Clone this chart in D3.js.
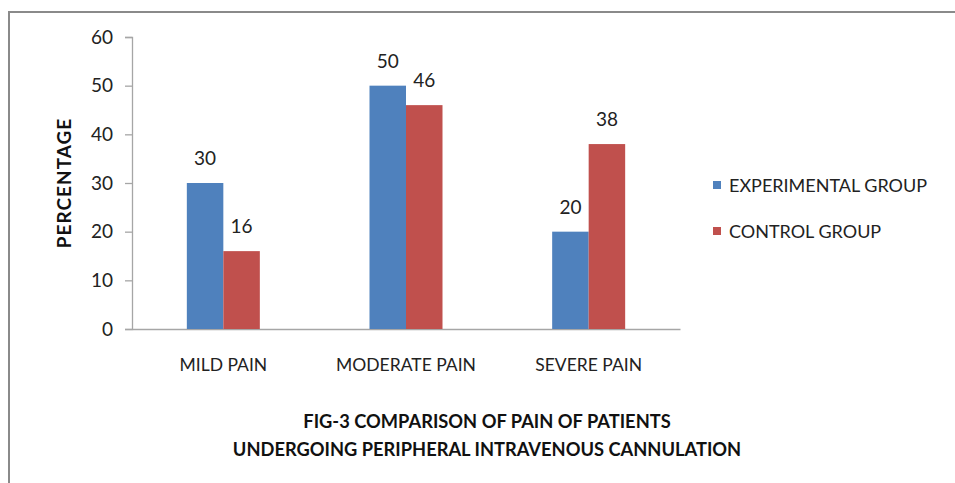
<!DOCTYPE html>
<html><head><meta charset="utf-8">
<script src="https://cdnjs.cloudflare.com/ajax/libs/d3/7.8.5/d3.min.js"></script>
<style>
body{margin:0;background:#fff;}
svg{display:block;font-family:Lato,"Open Sans",sans-serif;}
</style></head>
<body>
<svg id="c" width="955" height="483"></svg>
<script>
const categories = ["MILD PAIN", "MODERATE PAIN", "SEVERE PAIN"];
const seriesNames = ["EXPERIMENTAL GROUP", "CONTROL GROUP"];
const experimental = [30, 50, 20];
const control = [16, 46, 38];
const yTicks = [0, 10, 20, 30, 40, 50, 60];
const colors = ["#4F81BD", "#C0504D"];
const titleLines = ["FIG-3 COMPARISON OF PAIN OF PATIENTS", "UNDERGOING PERIPHERAL INTRAVENOUS CANNULATION"];
const yTitle = "PERCENTAGE";

(function () {
const svg = d3.select("#c");
// outer border
svg.append("rect").attr("x", 9).attr("y", 12).attr("width", 960).attr("height", 490)
  .attr("fill", "none").attr("stroke", "#8a8a8a").attr("stroke-width", 2);

const pLeft = 132, pRight = 680, pTop = 37, pBottom = 329;
const x = d3.scaleBand().domain(categories).range([pLeft, pRight]).paddingInner(0).paddingOuter(0);
const y = d3.scaleLinear().domain([0, 60]).range([pBottom, pTop]);
const barW = 36.5;
const xs = d3.scaleBand().domain(seriesNames).range([0, barW * 2]);

// y axis
const yAxis = svg.append("g").attr("transform", `translate(${pLeft},0)`)
  .call(d3.axisLeft(y).tickValues(yTicks).tickSize(7).tickPadding(12).tickFormat(d3.format("d")));
yAxis.select(".domain").attr("stroke", "#a6a6a6").attr("stroke-width", 1.3);
yAxis.selectAll(".tick line").attr("stroke", "#a6a6a6").attr("stroke-width", 1.3);
yAxis.selectAll(".tick text").attr("font-size", 19).attr("fill", "#222").attr("font-family", "Lato,sans-serif");

// x axis
const xAxis = svg.append("g").attr("transform", `translate(0,${pBottom})`)
  .call(d3.axisBottom(x).tickSize(0).tickPadding(30));
xAxis.select(".domain").attr("stroke", "#a6a6a6").attr("stroke-width", 1.5);
xAxis.selectAll(".tick text").attr("font-size", 17.5).attr("fill", "#222").attr("font-family", "Lato,sans-serif");

const data = categories.map((c, i) => ({c, vals: [experimental[i], control[i]]}));
const groups = svg.append("g").selectAll("g").data(data).join("g")
  .attr("transform", d => `translate(${x(d.c) + x.bandwidth() / 2 - barW},0)`);
groups.selectAll("rect").data(d => d.vals.map((v, j) => ({v, s: seriesNames[j], j})))
  .join("rect")
  .attr("x", d => xs(d.s)).attr("width", xs.bandwidth())
  .attr("y", d => y(d.v)).attr("height", d => pBottom - y(d.v))
  .attr("fill", d => colors[d.j]);
groups.selectAll("text").data(d => d.vals.map((v, j) => ({v, s: seriesNames[j], j})))
  .join("text")
  .attr("x", d => xs(d.s) + xs.bandwidth() / 2)
  .attr("y", d => y(d.v) - 18)
  .attr("text-anchor", "middle").attr("font-size", 19).attr("fill", "#222")
  .text(d => d.v);

// y title
svg.append("text").attr("transform", "translate(71,183) rotate(-90)")
  .attr("text-anchor", "middle").attr("font-size", 19).attr("font-weight", "bold")
  .attr("letter-spacing", 1).attr("fill", "#111").text(yTitle);

// legend
const lg = svg.append("g").selectAll("g").data(seriesNames).join("g")
  .attr("transform", (d, i) => `translate(713,${185 + i * 46})`);
lg.append("rect").attr("x", 0).attr("y", -4).attr("width", 8).attr("height", 8)
  .attr("fill", (d, i) => colors[i]);
lg.append("text").attr("x", 16).attr("y", 7).attr("font-size", 18).attr("fill", "#222").text(d => d);

// title
svg.append("g").selectAll("text").data(titleLines).join("text")
  .attr("x", 487).attr("y", (d, i) => 428 + i * 28)
  .attr("text-anchor", "middle").attr("font-size", 18.3).attr("font-weight", "bold")
  .attr("fill", "#111").text(d => d);
})();
</script>
</body></html>
